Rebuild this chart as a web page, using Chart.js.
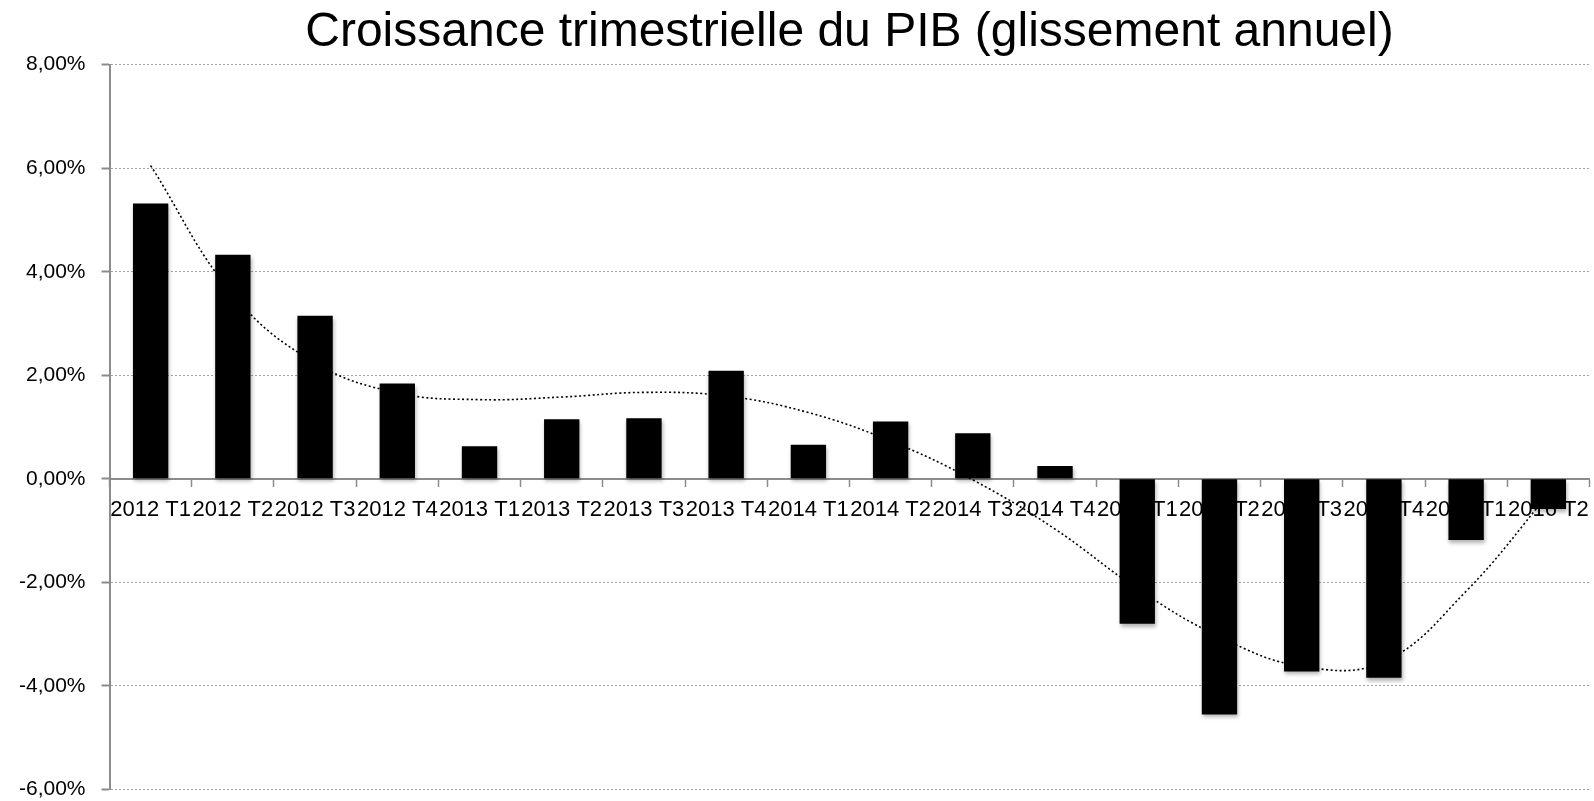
<!DOCTYPE html>
<html>
<head>
<meta charset="utf-8">
<title>Croissance trimestrielle du PIB</title>
<script src="https://cdn.jsdelivr.net/npm/chart.js@4.4.0/dist/chart.umd.min.js"></script>
<style>
    html, body { margin: 0; padding: 0; background: #fff; overflow: hidden; }
    /* a bit taller/wider than the window so the plot area meets the edges like the original */
    #wrap { width: 1600px; height: 815px; position: relative; }
</style>
</head>
<body>
<div id="wrap"><canvas id="pibChart"></canvas></div>
<script>
// Quarters on the x axis
const quarters = [
    '2012 T1', '2012 T2', '2012 T3', '2012 T4',
    '2013 T1', '2013 T2', '2013 T3', '2013 T4',
    '2014 T1', '2014 T2', '2014 T3', '2014 T4',
    '2015 T1', '2015 T2', '2015 T3', '2015 T4',
    '2016 T1', '2016 T2'
];

// GDP growth, year over year (%)
const growth = [
    5.32, 4.33, 3.15, 1.84,
    0.63, 1.15, 1.17, 2.09,
    0.66, 1.11, 0.88, 0.25,
    -2.80, -4.55, -3.72, -3.84,
    -1.18, -0.58
];

// Dotted trend line at each quarter (%)
const trend = [
    6.05, 3.56, 2.24, 1.66,
    1.53, 1.58, 1.67, 1.60,
    1.28, 0.73, -0.02, -0.97,
    -2.12, -3.05, -3.62, -3.53,
    -2.17, -0.30
];

// Y axis range
const yMin = -6;
const yMax = 8;
const yStep = 2;

const axisGrey = '#8c8c8c';
const gridGrey = '#a0a0a0';
const labelFont = "'Liberation Sans', Arial, Helvetica, sans-serif";

// Soft drop shadow under the bars only
const barShadow = {
    id: 'barShadow',
    beforeDatasetDraw(chart, args) {
        if (args.meta.type !== 'bar') return;
        const ctx = chart.ctx;
        ctx.save();
        ctx.shadowColor = 'rgba(0, 0, 0, 0.3)';
        ctx.shadowBlur = 4;
        ctx.shadowOffsetX = 1;
        ctx.shadowOffsetY = 3;
    },
    afterDatasetDraw(chart, args) {
        if (args.meta.type !== 'bar') return;
        chart.ctx.restore();
    }
};

new Chart(document.getElementById('pibChart'), {
    type: 'bar',
    data: {
        labels: quarters,
        datasets: [
            {
                type: 'line',
                data: trend,
                borderColor: '#000',
                borderWidth: 1.6,
                borderDash: [2, 2.5],
                pointRadius: 0,
                tension: 0.4,
                fill: false,
                order: 2
            },
            {
                type: 'bar',
                data: growth,
                backgroundColor: '#000',
                borderWidth: 0,
                categoryPercentage: 1,
                barPercentage: 0.43,
                order: 1
            }
        ]
    },
    options: {
        responsive: true,
        maintainAspectRatio: false,
        animation: false,
        layout: { padding: { left: 3, right: 3, top: 0, bottom: 0 } },
        plugins: {
            legend: { display: false },
            tooltip: { enabled: false },
            title: {
                display: true,
                text: 'Croissance trimestrielle du PIB (glissement annuel)',
                fullSize: false,
                color: '#000',
                font: { family: labelFont, size: 48, weight: 'normal' },
                padding: { top: 4, bottom: 3 }
            }
        },
        scales: {
            x: {
                position: { y: 0 },
                offset: true,
                grid: {
                    offset: true,
                    drawOnChartArea: false,
                    drawTicks: true,
                    tickLength: 7,
                    tickColor: axisGrey,
                    tickWidth: 1.5
                },
                border: { display: true, color: axisGrey, width: 2 },
                ticks: {
                    color: '#000',
                    font: { family: labelFont, size: 22 },
                    padding: 11,
                    autoSkip: false,
                    maxRotation: 0,
                    minRotation: 0
                }
            },
            y: {
                min: yMin,
                max: yMax,
                grid: {
                    color: gridGrey,
                    lineWidth: 1,
                    tickColor: axisGrey,
                    tickWidth: 2,
                    tickLength: 8,
                    tickBorderDash: []
                },
                border: { display: true, color: axisGrey, width: 2, dash: [2, 2] },
                ticks: {
                    stepSize: yStep,
                    color: '#000',
                    padding: 16,
                    font: { family: labelFont, size: 21, lineHeight: 0.9 },
                    callback: value => value.toFixed(2).replace('.', ',') + '%'
                }
            }
        }
    },
    plugins: [barShadow]
});
</script>
</body>
</html>
